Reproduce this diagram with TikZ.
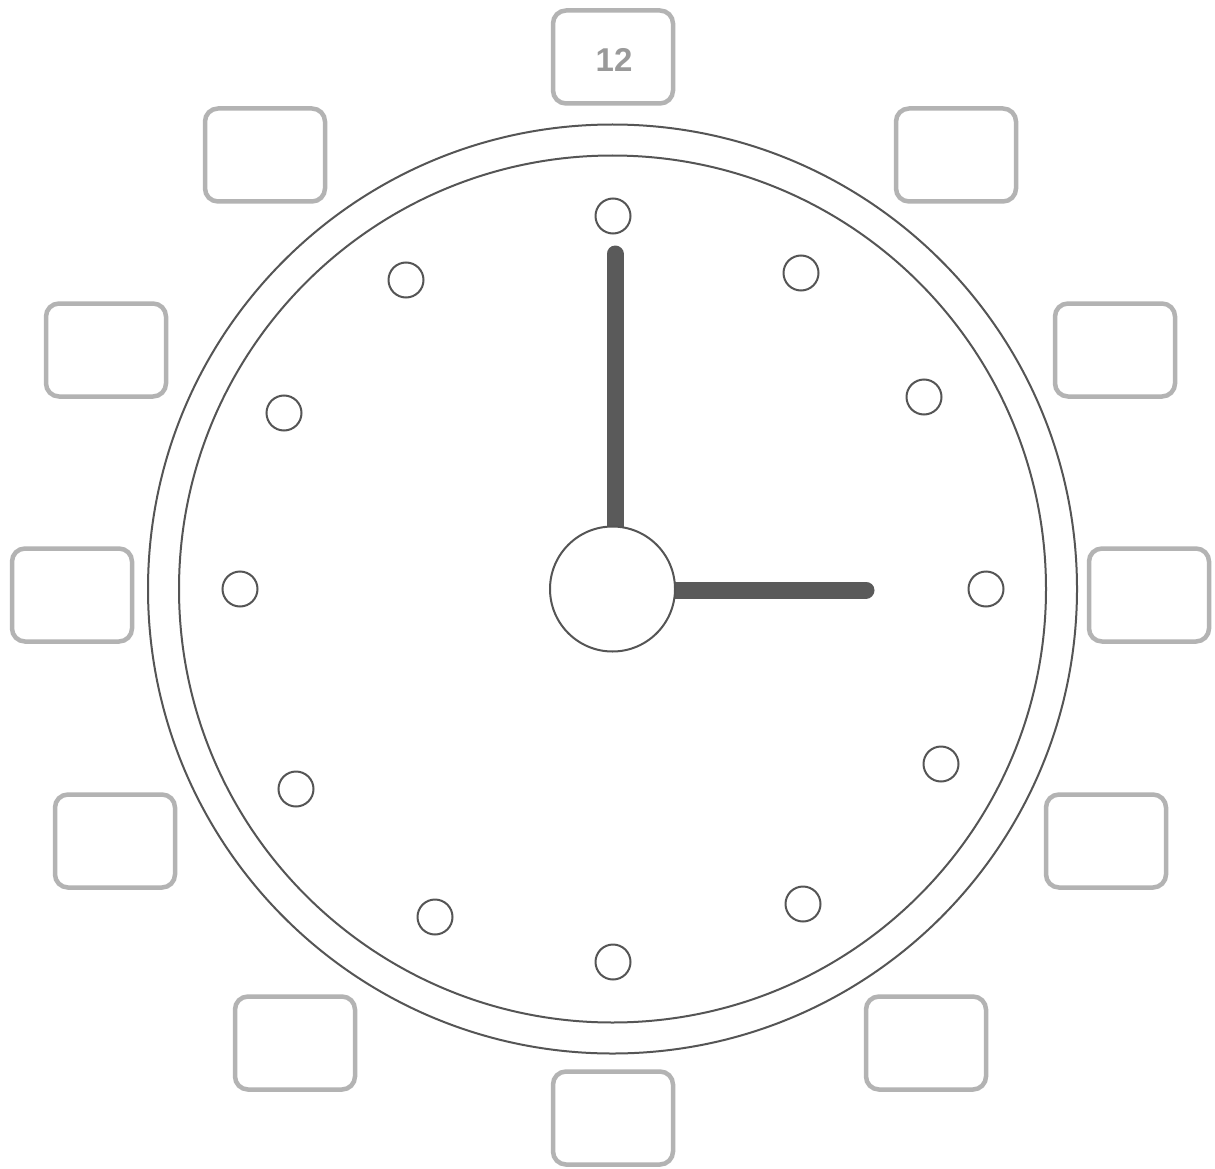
\documentclass[tikz,border=0pt]{standalone}
\usepackage{fontspec}
\setmainfont{Liberation Sans}
\definecolor{dial}{HTML}{555555}
\definecolor{hand}{HTML}{5A5A5A}
\definecolor{boxgray}{HTML}{B3B3B3}
\definecolor{numgray}{HTML}{9A9A9A}
\begin{document}
\begin{tikzpicture}[x=1pt,y=-1pt,
  labelbox/.style={draw=boxgray,line width=4.5pt,rounded corners=13pt,minimum width=120pt,minimum height=93pt,inner sep=0pt,fill=white},
  numtext/.style={font=\fontsize{33}{35}\selectfont\bfseries,text=numgray,inner sep=0pt},
  tick/.style={circle,draw=dial,line width=2pt,minimum size=35pt,inner sep=0pt},
  ring/.style={draw=dial,line width=2pt},
  handline/.style={draw=hand,line width=17pt,line cap=round}]
\useasboundingbox (0,0) rectangle (1215,1169);
\fill[white] (0,0) rectangle (1215,1169);
% dial rings
\coordinate (c) at (612.5,589);
\draw[ring] (c) circle[radius=464.5];
\draw[ring] (c) circle[radius=433.5];
% hour marks
\node[tick] (h12) at (613,216) {};
\node[tick] (h1) at (801,273) {};
\node[tick] (h2) at (924,397) {};
\node[tick] (h3) at (986,589) {};
\node[tick] (h4) at (941,764) {};
\node[tick] (h5) at (803,904) {};
\node[tick] (h6) at (613,962) {};
\node[tick] (h7) at (435,917) {};
\node[tick] (h8) at (296,789) {};
\node[tick] (h9) at (240,589) {};
\node[tick] (h10) at (284,413) {};
\node[tick] (h11) at (406,280) {};
% hands
\coordinate (mtip) at (615,254);
\coordinate (htip) at (866,590);
\draw[handline] (615,589) -- (mtip);
\draw[handline] (612,590) -- (htip);
\node[circle,draw=dial,line width=2pt,fill=white,minimum size=125pt,inner sep=0pt] (hub) at (612.5,589) {};
% label boxes
\node[labelbox] (b12) at (613,57) {};
\node[numtext] (t12) at (614,60) {12};
\node[labelbox] (b1) at (956,155) {};
\node[labelbox] (b2) at (1115,350) {};
\node[labelbox] (b3) at (1149,595) {};
\node[labelbox] (b4) at (1106,841) {};
\node[labelbox] (b5) at (926,1043) {};
\node[labelbox] (b6) at (613,1118) {};
\node[labelbox] (b7) at (295,1043) {};
\node[labelbox] (b8) at (115,841) {};
\node[labelbox] (b9) at (72,595) {};
\node[labelbox] (b10) at (106,350) {};
\node[labelbox] (b11) at (265,155) {};
\end{tikzpicture}
\end{document}
